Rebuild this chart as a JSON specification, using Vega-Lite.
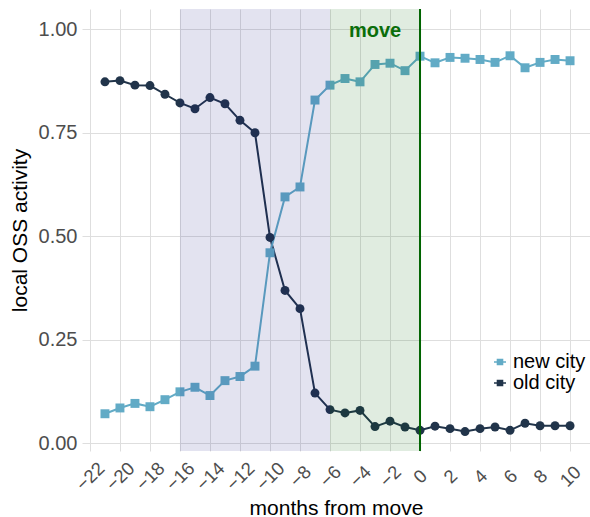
{
  "$schema": "https://vega.github.io/schema/vega-lite/v6.json",
  "width": 508,
  "height": 442,
  "autosize": {"type": "none"},
  "padding": {"left": 82, "top": 9, "right": 0, "bottom": 66},
  "background": "white",
  "config": {
    "view": {"stroke": null},
    "font": "Liberation Sans",
    "axis": {
      "grid": true,
      "gridColor": "#dedede",
      "gridWidth": 1,
      "domain": false,
      "ticks": false,
      "tickSize": 0,
      "labelOverlap": false,
      "labelFont": "Liberation Sans",
      "labelFontSize": 20,
      "labelColor": "#4d4d4d",
      "titleFont": "Liberation Sans",
      "titleFontSize": 21,
      "titleFontWeight": "normal",
      "titleColor": "#000000"
    },
    "legend": {
      "labelFont": "Liberation Sans",
      "labelFontSize": 20,
      "labelColor": "#000000"
    }
  },
  "datasets": {
    "activity": [
      {"month": -21, "series": "old city", "value": 0.873},
      {"month": -20, "series": "old city", "value": 0.876},
      {"month": -19, "series": "old city", "value": 0.865},
      {"month": -18, "series": "old city", "value": 0.864},
      {"month": -17, "series": "old city", "value": 0.843},
      {"month": -16, "series": "old city", "value": 0.822},
      {"month": -15, "series": "old city", "value": 0.808},
      {"month": -14, "series": "old city", "value": 0.835},
      {"month": -13, "series": "old city", "value": 0.820},
      {"month": -12, "series": "old city", "value": 0.780},
      {"month": -11, "series": "old city", "value": 0.750},
      {"month": -10, "series": "old city", "value": 0.497},
      {"month": -9, "series": "old city", "value": 0.369},
      {"month": -8, "series": "old city", "value": 0.325},
      {"month": -7, "series": "old city", "value": 0.121},
      {"month": -6, "series": "old city", "value": 0.081},
      {"month": -5, "series": "old city", "value": 0.073},
      {"month": -4, "series": "old city", "value": 0.079},
      {"month": -3, "series": "old city", "value": 0.040},
      {"month": -2, "series": "old city", "value": 0.053},
      {"month": -1, "series": "old city", "value": 0.039},
      {"month": 0, "series": "old city", "value": 0.031},
      {"month": 1, "series": "old city", "value": 0.041},
      {"month": 2, "series": "old city", "value": 0.035},
      {"month": 3, "series": "old city", "value": 0.028},
      {"month": 4, "series": "old city", "value": 0.035},
      {"month": 5, "series": "old city", "value": 0.039},
      {"month": 6, "series": "old city", "value": 0.031},
      {"month": 7, "series": "old city", "value": 0.048},
      {"month": 8, "series": "old city", "value": 0.042},
      {"month": 9, "series": "old city", "value": 0.042},
      {"month": 10, "series": "old city", "value": 0.042},
      {"month": -21, "series": "new city", "value": 0.071},
      {"month": -20, "series": "new city", "value": 0.085},
      {"month": -19, "series": "new city", "value": 0.096},
      {"month": -18, "series": "new city", "value": 0.088},
      {"month": -17, "series": "new city", "value": 0.105},
      {"month": -16, "series": "new city", "value": 0.124},
      {"month": -15, "series": "new city", "value": 0.135},
      {"month": -14, "series": "new city", "value": 0.115},
      {"month": -13, "series": "new city", "value": 0.151},
      {"month": -12, "series": "new city", "value": 0.161},
      {"month": -11, "series": "new city", "value": 0.186},
      {"month": -10, "series": "new city", "value": 0.460},
      {"month": -9, "series": "new city", "value": 0.595},
      {"month": -8, "series": "new city", "value": 0.619},
      {"month": -7, "series": "new city", "value": 0.829},
      {"month": -6, "series": "new city", "value": 0.865},
      {"month": -5, "series": "new city", "value": 0.881},
      {"month": -4, "series": "new city", "value": 0.873},
      {"month": -3, "series": "new city", "value": 0.915},
      {"month": -2, "series": "new city", "value": 0.918},
      {"month": -1, "series": "new city", "value": 0.900},
      {"month": 0, "series": "new city", "value": 0.935},
      {"month": 1, "series": "new city", "value": 0.919},
      {"month": 2, "series": "new city", "value": 0.932},
      {"month": 3, "series": "new city", "value": 0.930},
      {"month": 4, "series": "new city", "value": 0.927},
      {"month": 5, "series": "new city", "value": 0.920},
      {"month": 6, "series": "new city", "value": 0.936},
      {"month": 7, "series": "new city", "value": 0.907},
      {"month": 8, "series": "new city", "value": 0.920},
      {"month": 9, "series": "new city", "value": 0.927},
      {"month": 10, "series": "new city", "value": 0.924}
    ],
    "periods": [
      {"start": -16, "end": -6, "period": "before"},
      {"start": -6, "end": 0, "period": "transition"}
    ]
  },
  "layer": [
    {
      "data": {"name": "activity"},
      "mark": {"type": "line", "strokeWidth": 2},
      "encoding": {
        "x": {
          "field": "month",
          "type": "quantitative",
          "scale": {"domain": [-22.53, 11.33], "nice": false, "zero": false},
          "axis": {
            "title": "months from move",
            "values": [-22, -20, -18, -16, -14, -12, -10, -8, -6, -4, -2, 0, 2, 4, 6, 8, 10],
            "tickCount": 40,
            "format": "d",
            "labelFontSize": 18.5,
            "labelAngle": -45,
            "labelAlign": "center",
            "labelBaseline": "middle",
            "labelPadding": 25,
            "labelOverlap": false,
            "labelFlush": false,
            "labelBound": false,
            "titleBaseline": "middle",
            "titleY": 57
          }
        },
        "y": {
          "field": "value",
          "type": "quantitative",
          "scale": {"domain": [-0.019, 1.049], "nice": false, "zero": false},
          "axis": {
            "title": "local OSS activity",
            "values": [0, 0.25, 0.5, 0.75, 1],
            "format": ".2f",
            "labelPadding": 5,
            "titleBaseline": "middle",
            "titleAngle": -90,
            "titleX": -62,
            "titleAnchor": "middle"
          }
        },
        "color": {
          "field": "series",
          "type": "nominal",
          "scale": {"domain": ["new city", "old city"], "range": ["#62abc6", "#21344a"]},
          "legend": {
            "title": null,
            "orient": "none",
            "legendX": 408,
            "legendY": 343,
            "padding": 0,
            "rowPadding": 1,
            "labelOffset": 3,
            "symbolType": "M-1,-0.13H1V0.13H-1Z M-0.55,-0.55H0.55V0.55H-0.55Z",
            "symbolSize": 144,
            "symbolStrokeWidth": 0,
            "symbolOpacity": 1,
            "encode": {
              "symbols": {
                "update": {
                  "shape": {"value": "M-1,-0.13H1V0.13H-1Z M-0.55,-0.55H0.55V0.55H-0.55Z"},
                  "size": {"value": 144},
                  "strokeWidth": {"value": 0},
                  "opacity": {"value": 1}
                }
              }
            }
          }
        },
        "detail": {"field": "series"}
      }
    },
    {
      "data": {"name": "activity"},
      "transform": [{"filter": "datum.series === 'new city'"}],
      "mark": {"type": "point", "filled": true, "shape": "square", "size": 80, "opacity": 1},
      "encoding": {
        "x": {"field": "month", "type": "quantitative"},
        "y": {"field": "value", "type": "quantitative"},
        "color": {"field": "series", "type": "nominal", "legend": null}
      }
    },
    {
      "data": {"name": "activity"},
      "transform": [{"filter": "datum.series === 'old city'"}],
      "mark": {"type": "point", "filled": true, "shape": "circle", "size": 80, "opacity": 1},
      "encoding": {
        "x": {"field": "month", "type": "quantitative"},
        "y": {"field": "value", "type": "quantitative"},
        "color": {"field": "series", "type": "nominal", "legend": null}
      }
    },
    {
      "data": {"name": "periods"},
      "mark": {"type": "rect", "opacity": 0.12},
      "encoding": {
        "x": {"field": "start", "type": "quantitative"},
        "x2": {"field": "end"},
        "fill": {
          "field": "period",
          "type": "nominal",
          "scale": {"domain": ["before", "transition"], "range": ["#1a1a80", "#006400"]},
          "legend": null
        }
      }
    },
    {
      "data": {"values": [{"month": 0}]},
      "mark": {"type": "rule", "color": "#006400", "strokeWidth": 2},
      "encoding": {
        "x": {"field": "month", "type": "quantitative"}
      }
    },
    {
      "data": {"values": [{"label": "move", "month": -3, "value": 0.982}]},
      "mark": {"type": "text", "color": "#0a6e0a", "fontWeight": "bold", "fontSize": 20, "font": "Liberation Sans", "baseline": "alphabetic", "align": "center"},
      "encoding": {
        "x": {"field": "month", "type": "quantitative"},
        "y": {"field": "value", "type": "quantitative"},
        "text": {"field": "label"}
      }
    }
  ]
}
